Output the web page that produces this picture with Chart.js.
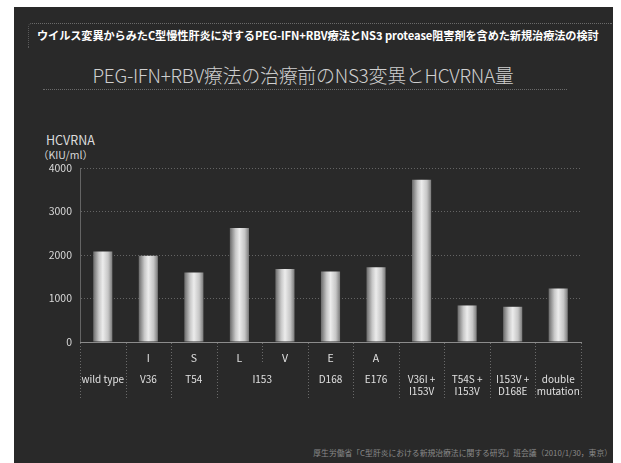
<!DOCTYPE html>
<html>
<head>
<meta charset="utf-8">
<script src="https://cdn.jsdelivr.net/npm/chart.js@4/dist/chart.umd.min.js"></script>
<style>
  html, body { margin: 0; padding: 0; background: #ffffff; width: 621px; height: 463px; overflow: hidden; }
  #slide { position: absolute; left: 14px; top: 7px; width: 599px; height: 456px; background: #292929; }
  .t { position: absolute; white-space: nowrap; font-family: "Noto Sans CJK JP", "Noto Sans", sans-serif; }
  #hbox { position: absolute; left: 28px; top: 23px; width: 583px; height: 24px;
          border-top: 1px dotted #6a6a6a; border-left: 1px dotted #5a5a5a; border-radius: 4px 0 0 0; }
  #htext { left: 37px; top: 27px; font-size: 11.2px; font-weight: bold; color: #ffffff; line-height: 16px; letter-spacing: -0.1px; }
  #title { left: 0; width: 606px; text-align: center; top: 62px; font-size: 19px; font-weight: 300; color: #cfcfcf; line-height: 26px; letter-spacing: -0.3px; }
  #uline { position: absolute; left: 43px; top: 89px; width: 524px; border-top: 1px dotted #6a6a6a; }
  #ylab1 { left: 46px; top: 132px; font-size: 12.5px; font-weight: normal; color: #dcdcdc; line-height: 15px; }
  #ylab2 { left: 38px; top: 148px; font-size: 10.5px; color: #d8d8d8; line-height: 13px; }
  #foot { right: 9px; top: 447px; font-size: 7.8px; color: #8a8a8a; line-height: 11px; }
  #c { position: absolute; left: 0; top: 0; }
</style>
</head>
<body>
<div id="slide"></div>
<div id="hbox"></div>
<div class="t" id="htext">ウイルス変異からみたC型慢性肝炎に対するPEG-IFN+RBV療法とNS3 protease阻害剤を含めた新規治療法の検討</div>
<div class="t" id="title">PEG-IFN+RBV療法の治療前のNS3変異とHCVRNA量</div>
<div id="uline"></div>
<div class="t" id="ylab1">HCVRNA</div>
<div class="t" id="ylab2">（KIU/ml）</div>
<div class="t" id="foot">厚生労働省「C型肝炎における新規治療法に関する研究」班会議（2010/1/30，東京）</div>
<canvas id="c" width="621" height="463"></canvas>
<script>
// ---- data ----
const categories = ['wild type', 'V36I', 'T54S', 'I153L', 'I153V', 'D168E', 'E176A',
                    'V36I+I153V', 'T54S+I153V', 'I153V+D168E', 'double mutation'];
const mutationLetters = ['', 'I', 'S', 'L', 'V', 'E', 'A', '', '', '', ''];
const hcvRnaValues = [2080, 1980, 1600, 2620, 1680, 1620, 1720, 3730, 840, 810, 1230];
const groupLabels = [['wild type'], ['V36'], ['T54'], ['I153'], ['D168'], ['E176'],
                     ['V36I +', 'I153V'], ['T54S +', 'I153V'], ['I153V +', 'D168E'], ['double', 'mutation']];
const groupSpans = [[0, 0], [1, 1], [2, 2], [3, 4], [5, 5], [6, 6], [7, 7], [8, 8], [9, 9], [10, 10]];
const yTickValues = [0, 1000, 2000, 3000, 4000];

const FONT = '"Noto Sans CJK JP", "Noto Sans", sans-serif';
const groupCenters = groupSpans.map(s => (s[0] + s[1]) / 2);

function barGradient(c) {
  const chart = c.chart;
  const xs = chart.scales && chart.scales.x;
  if (!chart.chartArea || !xs || xs.width === undefined) return '#cccccc';
  const cx = xs.getPixelForValue(c.dataIndex);
  const w = (xs.width / categories.length) * 0.42;
  const g = chart.ctx.createLinearGradient(cx - w / 2, 0, cx + w / 2, 0);
  g.addColorStop(0, '#6a6a6a');
  g.addColorStop(0.3, '#c8c8c8');
  g.addColorStop(0.5, '#ececec');
  g.addColorStop(0.78, '#c6c6c6');
  g.addColorStop(1, '#7a7a7a');
  return g;
}

const tableLines = {
  id: 'tableLines',
  afterDraw(chart) {
    const xs = chart.scales.x;
    const ys = chart.scales.y;
    const y0 = ys.getPixelForValue(0);
    const ctx = chart.ctx;
    ctx.save();
    ctx.strokeStyle = '#6a6a6a';
    ctx.lineWidth = 1;
    ctx.setLineDash([1, 2]);
    for (let i = 0; i <= categories.length; i++) {
      const px = Math.round(xs.getPixelForValue(i - 0.5)) + 0.5;
      const insideGroup = groupSpans.some(s => i > s[0] && i <= s[1]);
      const bottom = insideGroup ? y0 + 22 : y0 + 58;
      ctx.beginPath();
      ctx.moveTo(px, y0 + 1);
      ctx.lineTo(px, bottom);
      ctx.stroke();
    }
    ctx.restore();
  }
};

new Chart(document.getElementById('c'), {
  type: 'bar',
  data: {
    labels: categories,
    datasets: [{
      data: hcvRnaValues,
      backgroundColor: barGradient,
      borderWidth: 0,
      categoryPercentage: 1,
      barPercentage: 0.42
    }]
  },
  options: {
    responsive: false,
    animation: false,
    devicePixelRatio: 1,
    layout: { padding: { left: 0, right: 40, top: 168, bottom: 59 } },
    plugins: { legend: { display: false }, tooltip: { enabled: false }, title: { display: false } },
    scales: {
      y: {
        min: 0, max: 4000,
        afterFit(s) { s.width = 80; },
        afterBuildTicks(s) { s.ticks = yTickValues.map(v => ({ value: v })); },
        ticks: { color: '#d8d8d8', font: { family: FONT, size: 10.5 }, padding: 8,
                 callback: v => String(v) },
        grid: {
          drawTicks: false,
          color: c => (c.tick && c.tick.value === 0) ? 'rgba(0,0,0,0)' : '#646464',
          lineWidth: 1
        },
        border: { display: true, color: '#646464', dash: [1, 2] }
      },
      x: {
        type: 'category',
        afterFit(s) { s.height = 22; },
        grid: { display: false, drawTicks: false },
        border: { display: true, color: '#8c8c8c', width: 1 },
        ticks: {
          color: '#e0e0e0', font: { family: FONT, size: 10.5 }, padding: 10,
          autoSkip: false, maxRotation: 0,
          callback: (v, i) => mutationLetters[i]
        }
      },
      x2: {
        type: 'linear',
        position: 'bottom',
        offset: false,
        bounds: 'data',
        min: -0.5, max: categories.length - 0.5,
        afterFit(s) { s.height = 40; },
        afterBuildTicks(s) { s.ticks = groupCenters.map(v => ({ value: v })); },
        grid: { display: false, drawTicks: false, offset: false },
        border: { display: false },
        ticks: {
          color: '#e0e0e0', font: { family: FONT, size: 10 }, padding: 9,
          autoSkip: false, maxRotation: 0,
          callback: (v, i) => groupLabels[i]
        }
      }
    }
  },
  plugins: [tableLines]
});
</script>
</body>
</html>
